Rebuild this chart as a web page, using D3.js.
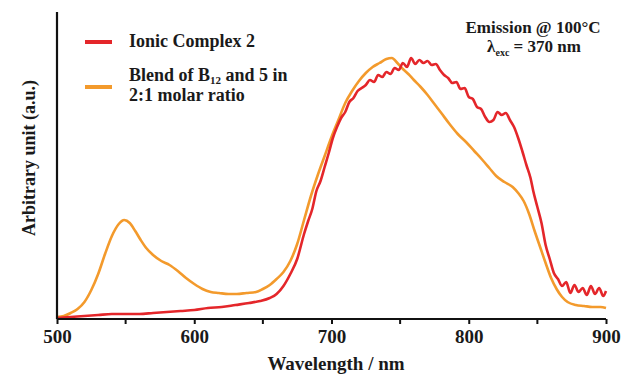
<!DOCTYPE html>
<html>
<head>
<meta charset="utf-8">
<script src="https://cdn.jsdelivr.net/npm/d3@7"></script>
<style>
  body { margin: 0; background: #fff; }
  svg text { font-family: "Liberation Serif", "Times New Roman", serif; font-weight: bold; fill: #1a1a1a; }
</style>
</head>
<body>
<svg id="chart" width="624" height="375"></svg>
<script>
// emission spectra (nm, arbitrary intensity)
var ionicComplex = [
  [500,1],[510,2],[520,3],[530,4],[540,5],[550,5],[560,5],[570,6],[580,7],[590,8],
  [600,9],[610,11],[620,12],[630,14],[640,16],[648,18],[655,21],[660,25],[665,33],
  [670,45],[675,60],[680,85],[683,98],[686,110],[689,128],[692,138],[695,152],[698,166],
  [701,181],[704,192],[707,201],[710,207],[713,217],[716,221],[719,228],[722,231],
  [725,234],[728,239],[731,237],[734,244],[737,242],[740,247],[743,245],[746,251],
  [749,249],[752,256],[755,252],[758,261],[761,255],[764,259],[767,256],[770,258],
  [773,254],[776,255],[779,249],[782,244],[785,241],[788,236],[791,237],[794,230],
  [797,231],[800,222],[803,220],[806,212],[809,210],[812,202],[815,197],[818,199],
  [821,207],[824,204],[827,206],[830,199],[833,192],[836,181],[839,168],[842,154],
  [845,141],[847,128],[850,112],[853,96],[856,74],[859,60],[862,46],[865,40],[868,33],
  [871,37],[874,26],[877,34],[880,27],[883,31],[886,24],[889,33],[892,25],[895,31],
  [898,23],[900,28]
];

var blend = [
  [500,2],[505,3],[510,6],[515,10],[520,17],[525,29],[530,45],[535,65],[540,83],
  [545,95],[549,99],[553,96],[557,88],[561,79],[565,71],[570,64],[576,58],[582,54],
  [588,48],[594,41],[600,35],[606,30],[612,27],[618,26],[625,25],[631,25],[638,26],
  [645,27],[650,30],[655,34],[660,40],[665,47],[670,58],[675,75],[680,99],[685,123],
  [690,144],[695,163],[700,182],[705,199],[710,216],[715,228],[720,238],[725,246],
  [730,252],[735,256],[740,260],[744,261],[748,256],[752,250],[756,245],[760,239],
  [765,232],[770,224],[775,215],[780,206],[786,195],[792,185],[798,177],[804,168],
  [810,159],[815,151],[820,143],[826,137],[832,132],[836,126],[840,118],[844,105],
  [848,88],[852,72],[856,56],[860,41],[864,30],[868,22],[872,17],[878,14],[884,13],
  [890,12],[896,12],[900,11]
];

var xTicks = [500, 600, 700, 800, 900];
var xMinorTicks = [550, 650, 750, 850];
var seriesNames = ["Ionic Complex 2", "Blend of B", "and 5 in", "2:1 molar ratio"];

var svg = d3.select("#chart");

var x = d3.scaleLinear().domain([500, 900]).range([57, 606]);
var y = d3.scaleLinear().domain([0, 307]).range([319, 12]);

var line = d3.line()
  .x(function(d){ return x(d[0]); })
  .y(function(d){ return y(d[1]); })
  .curve(d3.curveMonotoneX);

// curves
svg.append("path")
  .datum(blend)
  .attr("d", line)
  .attr("fill", "none")
  .attr("stroke", "#f39a2c")
  .attr("stroke-width", 2.6)
  .attr("stroke-linejoin", "round");

svg.append("path")
  .datum(ionicComplex)
  .attr("d", line)
  .attr("fill", "none")
  .attr("stroke", "#e4262a")
  .attr("stroke-width", 2.6)
  .attr("stroke-linejoin", "round");

// x axis
var gX = svg.append("g").attr("transform", "translate(0," + y(0) + ")");
gX.call(d3.axisBottom(x).tickValues(xTicks).tickSize(5).tickPadding(6).tickFormat(d3.format("d")));
gX.append("g").selectAll("line")
  .data(xMinorTicks)
  .enter()
  .append("line")
  .attr("x1", function(d){ return x(d); })
  .attr("x2", function(d){ return x(d); })
  .attr("y1", 0)
  .attr("y2", 5)
  .attr("stroke", "#111")
  .attr("stroke-width", 2);
gX.select(".domain").attr("stroke", "#111").attr("stroke-width", 2.2).attr("d", "M" + x(500) + ",0H" + x(900));
gX.selectAll(".tick line").attr("stroke", "#111").attr("stroke-width", 2);
gX.selectAll(".tick text")
  .attr("font-size", 19)
  .style("font-family", "'Liberation Serif', serif")
  .style("font-weight", "bold")
  .attr("fill", "#1a1a1a");

// y axis (line only)
svg.append("line")
  .attr("x1", x(500)).attr("x2", x(500))
  .attr("y1", y(0)).attr("y2", y(307))
  .attr("stroke", "#111")
  .attr("stroke-width", 2.2);

// axis titles
svg.append("text")
  .attr("x", 336)
  .attr("y", 370)
  .attr("text-anchor", "middle")
  .attr("font-size", 19)
  .text("Wavelength / nm");

svg.append("text")
  .attr("transform", "translate(35,158) rotate(-90)")
  .attr("text-anchor", "middle")
  .attr("font-size", 18)
  .text("Arbitrary unit (a.u.)");

// legend
var legend = svg.append("g");
legend.append("line")
  .attr("x1", 85).attr("x2", 112).attr("y1", 42).attr("y2", 42)
  .attr("stroke", "#e4262a").attr("stroke-width", 4);
legend.append("text")
  .attr("x", 129).attr("y", 47)
  .attr("font-size", 18)
  .text(seriesNames[0]);

legend.append("line")
  .attr("x1", 85).attr("x2", 112).attr("y1", 87).attr("y2", 87)
  .attr("stroke", "#f39a2c").attr("stroke-width", 4);
var t2 = legend.append("text")
  .attr("x", 129).attr("y", 81)
  .attr("font-size", 18);
t2.append("tspan").text(seriesNames[1]);
t2.append("tspan").attr("font-size", 11).attr("baseline-shift", "-3").text("12");
t2.append("tspan").text(" " + seriesNames[2]);
legend.append("text")
  .attr("x", 129).attr("y", 101)
  .attr("font-size", 18)
  .text(seriesNames[3]);

// annotation
var note = svg.append("g");
note.append("text")
  .attr("x", 533).attr("y", 33)
  .attr("text-anchor", "middle")
  .attr("font-size", 17)
  .text("Emission @ 100°C");
var t3 = note.append("text")
  .attr("x", 534).attr("y", 52)
  .attr("text-anchor", "middle")
  .attr("font-size", 17);
t3.append("tspan").text("λ");
t3.append("tspan").attr("font-size", 10).attr("baseline-shift", "-4").text("exc");
t3.append("tspan").text(" = 370 nm");
</script>
</body>
</html>
